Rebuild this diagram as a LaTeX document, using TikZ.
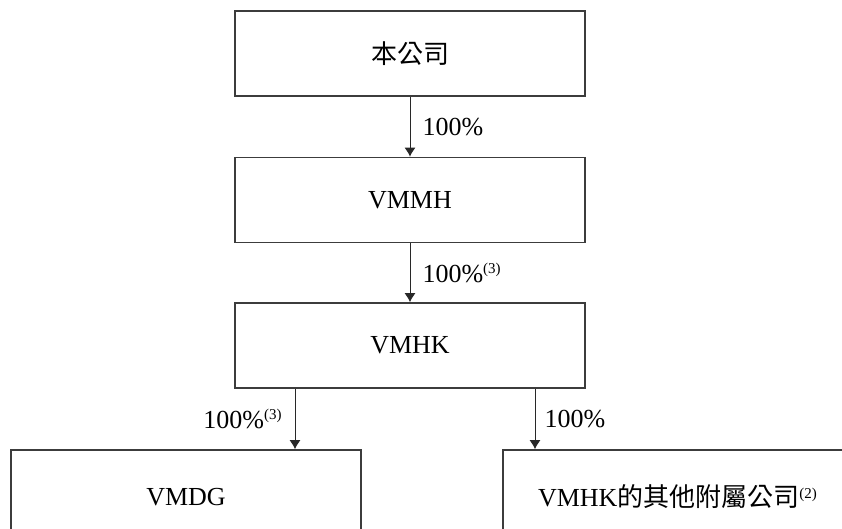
\documentclass[tikz,border=0pt]{standalone}
\usepackage{fontspec}
\setmainfont{Liberation Serif}
\newfontfamily\cjk{Noto Sans CJK TC}
\usetikzlibrary{arrows.meta}
\newcommand{\fnmark}[1]{\textsuperscript{\fontsize{7.5}{7.5}\selectfont(#1)}}
\begin{document}
\begin{tikzpicture}[x=0.5pt,y=-0.5pt]
    % Define colors
    \definecolor{boxcolor}{RGB}{60,60,60}
    \definecolor{arrowcolor}{RGB}{40,40,40}

    % Styles
    \tikzset{
        entity/.style={draw=boxcolor, line width=0.8pt, minimum width=175.25pt, minimum height=42.5pt, inner sep=0pt, font=\fontsize{13}{15}\selectfont},
        owns/.style={draw=arrowcolor, line width=0.5pt, -{Latex[length=4.5pt,width=5.5pt]}},
        share/.style={font=\fontsize{13}{15}\selectfont, inner sep=0pt}
    }

    % Frame
    \useasboundingbox (0,0) rectangle (842,529);
    \clip (0,0) rectangle (842,529);

    % Entities
    \node[entity] (company) at (410,53.5) {\cjk 本公司};
    \node[entity] (vmmh) at (410,200) {VMMH};
    \node[entity] (vmhk) at (410,345.5) {VMHK};
    \node[entity, minimum height=47pt] (vmdg) at (186,497) {VMDG};
    \node[entity, minimum height=47pt] (others) at (678,497) {VMHK{\cjk 的其他附屬公司}\fnmark{2}};

    % Split points under VMHK
    \coordinate (lsplit) at ([xshift=-57.5pt]vmhk.south);
    \coordinate (rsplit) at ([xshift=62.5pt]vmhk.south);

    % Ownership arrows
    \draw[owns] (company) -- node[share, right=6pt] {100\%} (vmmh);
    \draw[owns] (vmmh) -- node[share, right=6pt] {100\%\fnmark{3}} (vmhk);
    \draw[owns] (lsplit) -- node[share, left=6pt] {100\%\fnmark{3}} (lsplit |- vmdg.north);
    \draw[owns] (rsplit) -- node[share, right=4.5pt] {100\%} (rsplit |- others.north);
\end{tikzpicture}
\end{document}
